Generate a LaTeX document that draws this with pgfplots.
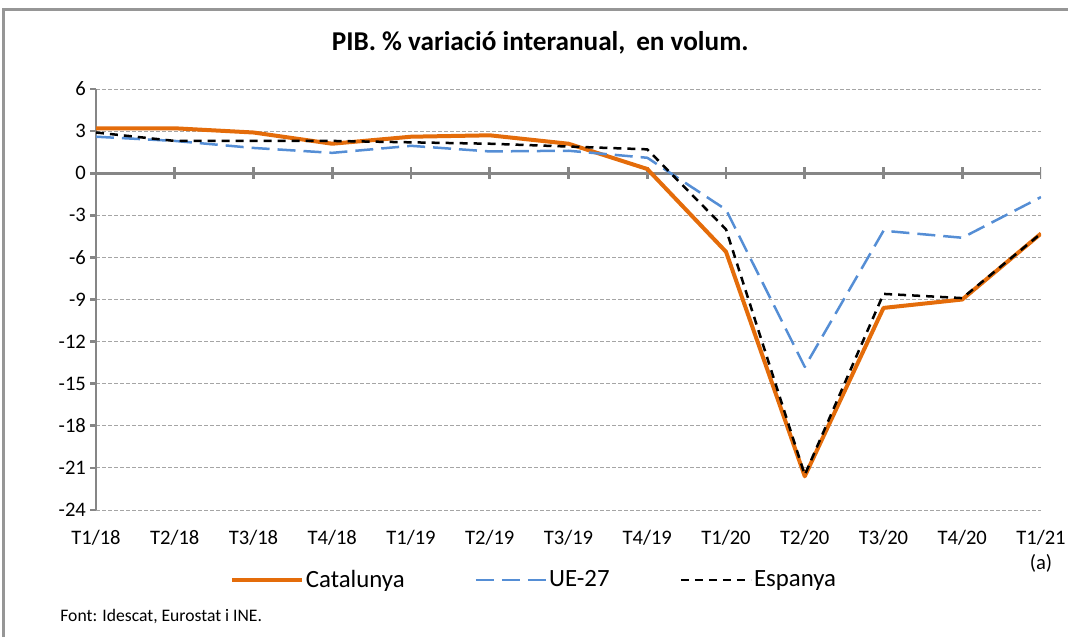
\documentclass[border=0pt]{standalone}
\usepackage{fontspec}
\setmainfont{Carlito}
\usepackage{pgfplots}
\pgfplotsset{compat=1.18}
\definecolor{cat}{RGB}{228,108,10}
\definecolor{ue}{RGB}{85,142,213}
\definecolor{axg}{RGB}{134,134,134}
\definecolor{grd}{RGB}{165,165,165}
\definecolor{frm}{RGB}{150,150,150}
\begin{document}
\begin{tikzpicture}
\path[use as bounding box] (-48pt,-63.5pt) rectangle (486pt,255pt);
\draw[frm, line width=1.5pt] (-46pt,-63.5pt) -- (-46pt,250pt) -- (486pt,250pt);
\begin{axis}[
  scale only axis, width=472.5pt, height=210.5pt,
  xmin=0, xmax=12, ymin=-24, ymax=6,
  axis y line*=left, axis x line*=bottom,
  x axis line style={draw=none},
  y axis line style={axg, line width=1.35pt},
  xtick={0,...,12},
  xticklabels={T1/18,T2/18,T3/18,T4/18,T1/19,T2/19,T3/19,T4/19,T1/20,T2/20,T3/20,T4/20,{T1/21\\(a)}},
  xtick style={draw=none},
  xticklabel style={align=center, font=\fontsize{10.3}{12.5}\selectfont, yshift=-3.5pt},
  ytick={-24,-21,...,6},
  yticklabels={-24,-21,-18,-15,-12,-9,-6,-3,0,3,6},
  yticklabel style={font=\fontsize{10.3}{12}\selectfont, xshift=1.5pt},
  ytick style={axg, line width=1.35pt},
  tick align=outside, major tick length=3pt,
  ymajorgrids, grid style={grd, line width=0.5pt, dash pattern=on 2pt off 1pt},
  title={PIB. \% variació interanual,\hspace{0.4em}en volum.},
  title style={at={(0.47,1.081)}, anchor=center, font=\bfseries\fontsize{13.6}{15}\selectfont},
  legend columns=3,
  legend style={at={(0.4635,-0.1663)}, anchor=center, draw=none, fill=none,
    font=\fontsize{12.4}{14}\selectfont,
    nodes={inner xsep=1pt},
    /tikz/every even column/.append style={column sep=34pt}},
  legend image code/.code={\draw[#1] (0pt,0pt) -- (35pt,0pt);},
  line join=round,
]
\draw[axg, line width=1.35pt] (axis cs:0,0) -- (axis cs:12,0);
\pgfplotsinvokeforeach{0,...,12}{\draw[axg, line width=1.35pt] (axis cs:#1,0) ++(0pt,3pt) -- ++(0pt,-6pt);}
\addplot[cat, line width=2pt] coordinates {
(0,3.2) (1,3.2) (2,2.9) (3,2.1) (4,2.6) (5,2.7) (6,2.1) (7,0.3) (8,-5.6) (9,-21.6) (10,-9.6) (11,-9.0) (12,-4.3)};
\addlegendentry{Catalunya}
\addplot[ue, line width=1.25pt, dash pattern=on 9pt off 4pt] coordinates {
(0,2.6) (1,2.3) (2,1.8) (3,1.45) (4,1.95) (5,1.55) (6,1.6) (7,1.1) (8,-2.6) (9,-13.8) (10,-4.1) (11,-4.6) (12,-1.7)};
\addlegendentry{UE-27}
\addplot[black, line width=1.25pt, dash pattern=on 4pt off 3pt] coordinates {
(0,2.9) (1,2.3) (2,2.3) (3,2.3) (4,2.2) (5,2.1) (6,1.9) (7,1.7) (8,-4.0) (9,-21.5) (10,-8.6) (11,-8.9) (12,-4.3)};
\addlegendentry{Espanya}
\end{axis}
\node[anchor=west, inner sep=0pt, font=\fontsize{8.8}{10}\selectfont] at (-18pt,-53.5pt) {Font: Idescat, Eurostat i INE.};
\end{tikzpicture}
\end{document}
